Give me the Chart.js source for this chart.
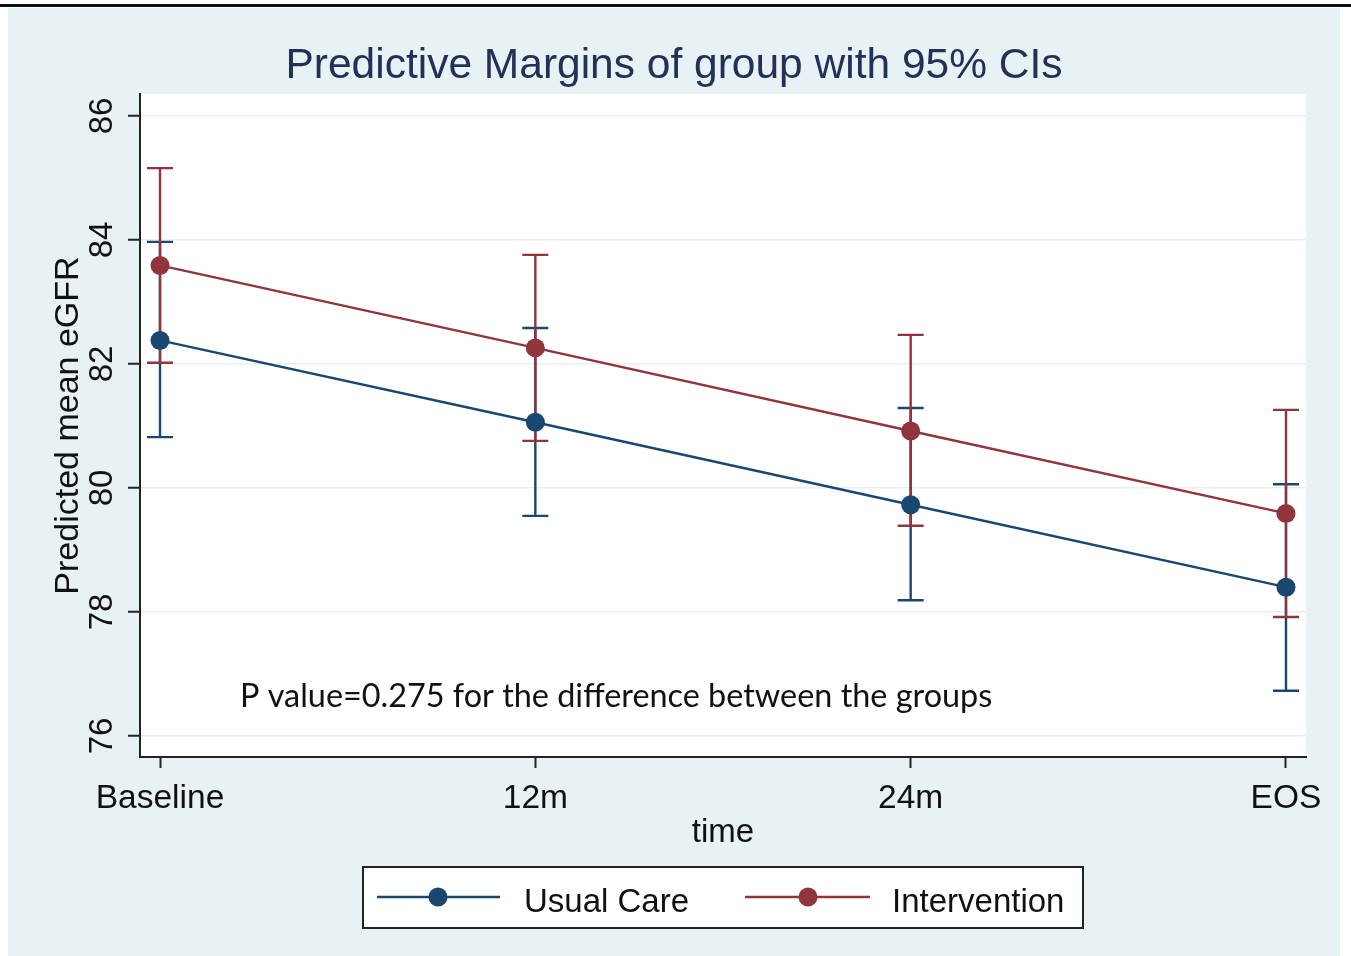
<!DOCTYPE html>
<html>
<head>
<meta charset="utf-8">
<script src="https://cdn.jsdelivr.net/npm/chart.js@4.4.1/dist/chart.umd.min.js"></script>
<style>
html,body{margin:0;padding:0;background:#fff;}
#wrap{position:relative;width:1351px;height:956px;}
canvas{display:block;}
</style>
</head>
<body>
<div id="wrap"><canvas id="c" width="1351" height="956"></canvas></div>
<script>
// ---- data ----
const categories = ['Baseline', '12m', '24m', 'EOS'];
const xPositions = [0, 1, 2, 3];
const usualMean = [82.38, 81.06, 79.73, 78.40];
const usualLo   = [80.82, 79.55, 78.19, 76.73];
const usualHi   = [83.97, 82.58, 81.29, 80.06];
const intMean   = [83.59, 82.26, 80.92, 79.59];
const intLo     = [82.02, 80.76, 79.39, 77.92];
const intHi     = [85.16, 83.76, 82.47, 81.26];
const yTicks    = [76, 78, 80, 82, 84, 86];
const seriesNames = ['Usual Care', 'Intervention'];
const titleText = 'Predictive Margins of group with 95% CIs';
const yTitle = 'Predicted mean eGFR';
const xTitle = 'time';
const noteText = 'P value=0.275 for the difference between the groups';

const BLUE = '#1A476F';
const RED = '#90353B';
const FONT = '"Liberation Sans", Arial, sans-serif';

const pts = (arr) => arr.map((v, i) => ({x: xPositions[i], y: v}));

const decorPlugin = {
  id: 'decor',
  beforeDraw(chart) {
    const ctx = chart.ctx, a = chart.chartArea;
    ctx.save();
    ctx.fillStyle = '#ffffff';
    ctx.fillRect(0, 0, chart.width, chart.height);
    ctx.fillStyle = '#E8F1F3';
    ctx.fillRect(8, 8, 1332, chart.height - 8);
    ctx.fillStyle = '#111';
    ctx.fillRect(0, 4, chart.width, 3);
    ctx.fillStyle = '#ffffff';
    ctx.fillRect(a.left, a.top, a.right - a.left, a.bottom - a.top);
    ctx.restore();
  },
  beforeDatasetsDraw(chart) {
    const ctx = chart.ctx, xs = chart.scales.x, ys = chart.scales.y;
    const groups = [[usualLo, usualHi, BLUE], [intLo, intHi, RED]];
    ctx.save();
    ctx.lineWidth = 2.4;
    groups.forEach(([lo, hi, col]) => {
      ctx.strokeStyle = col;
      xPositions.forEach((xv, i) => {
        const px = xs.getPixelForValue(xv);
        const pl = ys.getPixelForValue(lo[i]);
        const ph = ys.getPixelForValue(hi[i]);
        ctx.beginPath();
        ctx.moveTo(px, pl); ctx.lineTo(px, ph);
        ctx.moveTo(px - 13, pl); ctx.lineTo(px + 13, pl);
        ctx.moveTo(px - 13, ph); ctx.lineTo(px + 13, ph);
        ctx.stroke();
      });
    });
    ctx.restore();
  },
  afterDraw(chart) {
    const ctx = chart.ctx, a = chart.chartArea, ys = chart.scales.y;
    ctx.save();
    // title
    ctx.fillStyle = '#233159';
    ctx.font = '42.5px ' + FONT;
    ctx.textAlign = 'center';
    ctx.textBaseline = 'alphabetic';
    ctx.fillText(titleText, 674, 78);
    // y tick labels (rotated)
    ctx.fillStyle = '#111';
    ctx.font = '33px ' + FONT;
    yTicks.forEach(v => {
      const py = ys.getPixelForValue(v);
      ctx.save();
      ctx.translate(112, py);
      ctx.rotate(-Math.PI / 2);
      ctx.textAlign = 'center';
      ctx.fillText(String(v), 0, 0);
      ctx.restore();
    });
    // y title
    ctx.save();
    ctx.translate(78, (a.top + a.bottom) / 2);
    ctx.rotate(-Math.PI / 2);
    ctx.textAlign = 'center';
    ctx.font = '34px ' + FONT;
    ctx.fillText(yTitle, 0, 0);
    ctx.restore();
    // x title
    ctx.textAlign = 'center';
    ctx.font = '33px ' + FONT;
    ctx.fillText(xTitle, (a.left + a.right) / 2, 842);
    // note
    ctx.textAlign = 'left';
    ctx.font = '32.4px Lato, "Noto Sans", sans-serif';
    ctx.fillText(noteText, 240, 707);
    // legend
    const lx = 363, ly = 867, lw = 720, lh = 61;
    ctx.fillStyle = '#fff';
    ctx.fillRect(lx, ly, lw, lh);
    ctx.strokeStyle = '#222';
    ctx.lineWidth = 2;
    ctx.strokeRect(lx, ly, lw, lh);
    const items = [[BLUE, 377, 500, 438, 524, seriesNames[0]], [RED, 745, 870, 808, 892, seriesNames[1]]];
    items.forEach(([col, x1, x2, dx, tx, label]) => {
      ctx.strokeStyle = col;
      ctx.lineWidth = 2.4;
      ctx.beginPath(); ctx.moveTo(x1, 897); ctx.lineTo(x2, 897); ctx.stroke();
      ctx.fillStyle = col;
      ctx.beginPath(); ctx.arc(dx, 897, 9.5, 0, Math.PI * 2); ctx.fill();
      ctx.fillStyle = '#111';
      ctx.font = '33px ' + FONT;
      ctx.textAlign = 'left';
      ctx.fillText(label, tx, 912);
    });
    ctx.restore();
  }
};

new Chart(document.getElementById('c'), {
  type: 'line',
  data: {
    datasets: [
      {label: seriesNames[0], data: pts(usualMean), borderColor: BLUE, backgroundColor: BLUE,
       borderWidth: 2.4, pointRadius: 9.5, pointHoverRadius: 9.5, pointBorderWidth: 0, tension: 0},
      {label: seriesNames[1], data: pts(intMean), borderColor: RED, backgroundColor: RED,
       borderWidth: 2.4, pointRadius: 9.5, pointHoverRadius: 9.5, pointBorderWidth: 0, tension: 0}
    ]
  },
  options: {
    responsive: false,
    animation: false,
    devicePixelRatio: 1,
    layout: {padding: {left: 0, top: 94, right: 45, bottom: 0}},
    plugins: {legend: {display: false}, title: {display: false}, tooltip: {enabled: false}},
    scales: {
      x: {
        type: 'linear',
        min: -0.0533, max: 3.0533,
        afterBuildTicks: s => { s.ticks = xPositions.map(v => ({value: v})); },
        afterFit: s => { s.height = 199; },
        grid: {drawOnChartArea: false, drawTicks: true, tickLength: 11, tickColor: '#222', tickWidth: 2},
        border: {display: true, color: '#222', width: 2},
        ticks: {
          callback: (v) => categories[xPositions.indexOf(v)] ?? '',
          font: {family: FONT, size: 33.5}, color: '#111', padding: 11, maxRotation: 0, minRotation: 0
        }
      },
      y: {
        type: 'linear',
        min: 75.661, max: 86.355,
        afterBuildTicks: s => { s.ticks = yTicks.map(v => ({value: v})); },
        afterFit: s => { s.width = 140; },
        grid: {color: '#ECEEEE', lineWidth: 1.5, tickLength: 12, tickColor: '#222', tickWidth: 2},
        border: {display: true, color: '#222', width: 2},
        ticks: {display: false}
      }
    }
  },
  plugins: [decorPlugin]
});
</script>
</body>
</html>
